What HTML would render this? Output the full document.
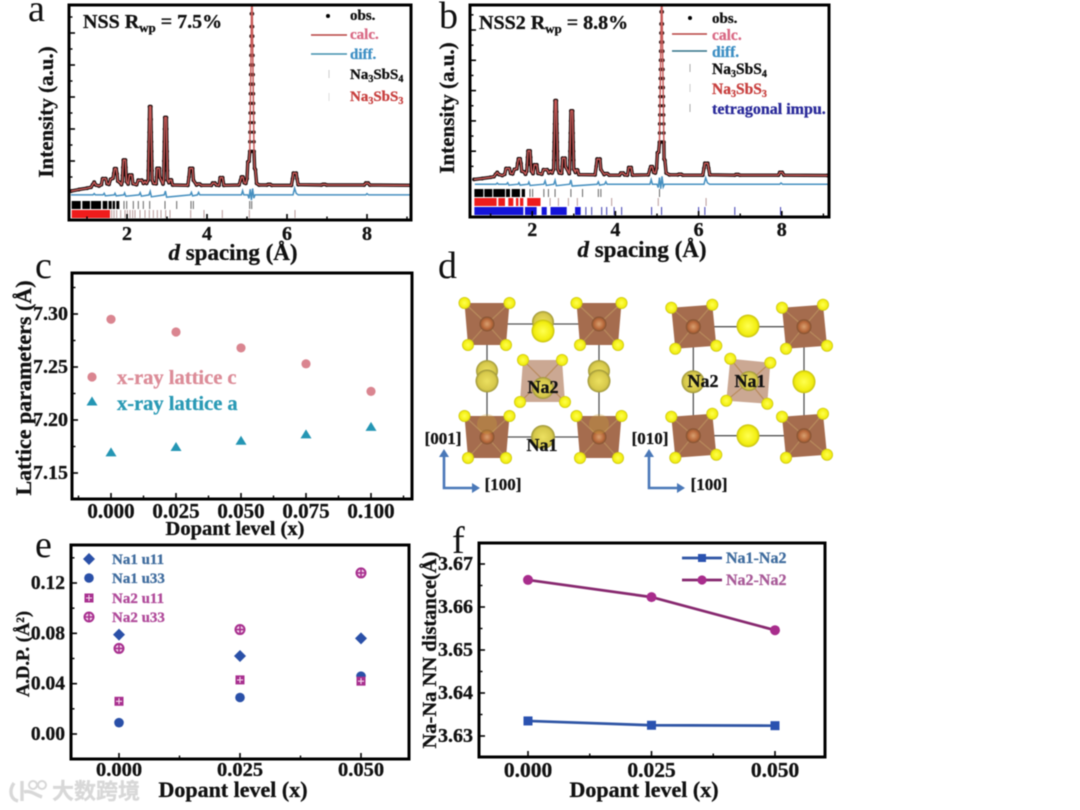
<!DOCTYPE html>
<html lang="en">
<head>
<meta charset="utf-8">
<title>Na3SbS4 diffraction and lattice figure</title>
<style>
html,body{margin:0;padding:0;background:#fff;}
#figure{display:block;width:1080px;height:810px;filter:blur(0.5px);}
text{font-family:"Liberation Serif","Noto Sans CJK SC",serif;font-weight:bold;}
.letter{font-weight:normal;fill:#111;}
</style>
</head>
<body>
<svg id="figure" xmlns="http://www.w3.org/2000/svg" width="1080" height="810" viewBox="0 0 1080 810">
<defs>
  <radialGradient id="ySphere" cx="50%" cy="50%" r="55%"><stop offset="0%" stop-color="#ffff50"/><stop offset="70%" stop-color="#f2ee10"/><stop offset="100%" stop-color="#b0a810"/></radialGradient>
  <radialGradient id="oSphere" cx="50%" cy="50%" r="55%"><stop offset="0%" stop-color="#ece060"/><stop offset="70%" stop-color="#d6c84a"/><stop offset="100%" stop-color="#7f7a30"/></radialGradient>
  <radialGradient id="bSphere" cx="50%" cy="50%" r="55%"><stop offset="0%" stop-color="#d8a070"/><stop offset="60%" stop-color="#b8683a"/><stop offset="100%" stop-color="#6d4a30"/></radialGradient>
  <clipPath id="clipA"><rect x="69" y="5" width="342" height="215"/></clipPath>
  <clipPath id="clipB"><rect x="470" y="5" width="359" height="212"/></clipPath>
</defs>
<rect width="1080" height="810" fill="#fff"/>

<text class="letter" x="28" y="21" font-size="38">a</text>
<text class="letter" x="439" y="28" font-size="38">b</text>
<text class="letter" x="35" y="278" font-size="38">c</text>
<text class="letter" x="438" y="278" font-size="38">d</text>
<text class="letter" x="35" y="557" font-size="38">e</text>
<text class="letter" x="452" y="553" font-size="38">f</text>

<g id="panelA"></g>
<g id="panelB"></g>
<g id="panelC"></g>
<g id="panelE"></g>
<g id="panelF"></g>
<g id="panelD"></g>

<g><text x="83" y="28" font-size="20" fill="#111">NSS R<tspan dy="4" font-size="13">wp</tspan><tspan dy="-4"> = 7.5%</tspan></text></g>
<g>
  <circle cx="328" cy="16" r="2" fill="#000"/>
  <text x="350" y="20" font-size="15" fill="#111">obs.</text>
  <line x1="311" y1="35" x2="347" y2="35" stroke="#b8403f" stroke-width="1.4"/>
  <text x="350" y="39" font-size="15" fill="#d96a85">calc.</text>
  <line x1="311" y1="54" x2="347" y2="54" stroke="#3f8fae" stroke-width="1.4"/>
  <text x="350" y="59" font-size="15" fill="#3d8fc4">diff.</text>
  <line x1="329" y1="70" x2="329" y2="78" stroke="#ccc"/>
  <text x="350" y="79" font-size="15" fill="#111">Na<tspan dy="3" font-size="10">3</tspan><tspan dy="-3">SbS</tspan><tspan dy="3" font-size="10">4</tspan></text>
  <line x1="329" y1="93" x2="329" y2="101" stroke="#ddd"/>
  <text x="350" y="101" font-size="15" fill="#c8403f">Na<tspan dy="3" font-size="10">3</tspan><tspan dy="-3">SbS</tspan><tspan dy="3" font-size="10">3</tspan></text>
</g>

<g><text x="479" y="29" font-size="20" fill="#111">NSS2 R<tspan dy="4" font-size="13">wp</tspan><tspan dy="-4"> = 8.8%</tspan></text></g>
<g>
  <circle cx="690" cy="18" r="2" fill="#000"/>
  <text x="712" y="23" font-size="15" fill="#111">obs.</text>
  <line x1="672" y1="34" x2="707" y2="34" stroke="#b8403f" stroke-width="1.4"/>
  <text x="712" y="40" font-size="15.5" fill="#d96a85">calc.</text>
  <line x1="672" y1="51" x2="707" y2="51" stroke="#2f7088" stroke-width="1.4"/>
  <text x="712" y="57" font-size="15.5" fill="#3d8fc4">diff.</text>
  <line x1="690" y1="64" x2="690" y2="72" stroke="#aaa"/>
  <text x="712" y="74" font-size="15.5" fill="#111">Na<tspan dy="3" font-size="10">3</tspan><tspan dy="-3">SbS</tspan><tspan dy="3" font-size="10">4</tspan></text>
  <line x1="690" y1="84" x2="690" y2="92" stroke="#ccc"/>
  <text x="712" y="94" font-size="15.5" fill="#c8403f">Na<tspan dy="3" font-size="10">3</tspan><tspan dy="-3">SbS</tspan><tspan dy="3" font-size="10">3</tspan></text>
  <line x1="690" y1="104" x2="690" y2="112" stroke="#aaa"/>
  <text x="712" y="114" font-size="16" fill="#2a2a9a">tetragonal impu.</text>
</g>

<g opacity="0.95">
  <path d="M14 783C9 790 10 799 18 801M22 781L22 801M24 792C30 790 36 795 42 797" fill="none" stroke="#d6d6d6" stroke-width="3.4"/>
  <circle cx="33" cy="785" r="4" fill="none" stroke="#d6d6d6" stroke-width="2"/>
  <circle cx="42" cy="785" r="4" fill="none" stroke="#d6d6d6" stroke-width="2"/>
  <text x="52" y="799" font-size="22" fill="#d6d6d6" style='font-family:"Noto Sans CJK SC",sans-serif'>大数跨境</text>
</g>

<script>
// ---- Panel a: NSS diffraction profile ----
const obsDA = [.6,.8,1,1.1,1.14,1.18,1.22,1.3,
 1.36,1.39,1.47,1.5,1.55,1.59,1.65,1.67,1.69,1.73,1.75,1.77,1.82,1.86,
 1.88,1.89,1.9,1.91,1.96,1.97,1.98,1.99,2.03,2.06,2.12,2.15,2.24,
 2.28,2.37,2.41,2.45,2.49,
 2.53,2.535,2.54,2.545,2.55,2.555,2.56,2.565,2.595,2.6,2.605,2.61,2.615,2.62,2.625,2.63,2.66,2.73,
 2.74,2.75,2.81,2.82,2.9,
 2.915,2.92,2.925,2.93,2.935,2.94,2.945,2.985,2.99,2.995,3,3.005,3.01,3.015,3.05,3.07,3.11,3.14,3.52,
 3.55,3.57,3.64,3.66,3.74,3.77,3.82,3.86,4.11,4.14,4.2,4.23,4.3,4.33,4.39,4.42,4.8,
 4.84,4.86,4.9,4.93,4.97,5,5.02,5.05,
 5.07,5.073,5.076,5.079,5.082,5.085,5.088,5.091,5.094,5.097,5.1,5.103,5.106,5.109,5.112,5.115,
 5.13,5.133,5.136,5.139,5.142,5.145,5.148,5.151,5.154,5.157,5.16,5.163,5.166,5.169,5.172,5.175,
 5.19,5.21,5.24,5.3,5.5,5.53,5.58,5.62,6.11,6.14,6.16,6.23,6.25,6.28,6.86,6.9,6.95,6.99,7.93,7.97,8.03,8.07,9.1];
const obsIA = [.6,1.1,1.5,1.8,2.6,3.4,2.5,2.2,
 2.6,4.5,4.5,2.9,2.7,4.3,4.6,6.1,7.6,7.6,6,3.7,3.3,2.6,
 3.5,5.5,8,10.3,10.3,8,5.5,3.5,2.8,5.6,5.6,2.9,2.6,
 4,4,3,3.6,3,
 4,7,10,13,16,19,23,27,27,23,19,16,13,10,7,4,3,2.9,
 5,7.7,7.7,5,2.8,
 4,7,10,13,16,20,23.6,23.6,20,16,13,10,7,4,3.2,4.1,4.1,2.5,2.4,
 5,7.7,7.7,4,2.5,2.8,2.8,2.4,2.4,3.1,3.1,2.5,2.4,4.8,4.8,2.4,2.5,
 4,5,5,3.2,3,4.5,9.7,9.9,
 13,16,19,22,25,28,31,34,37,40,43,46,49,52,56,62,
 62,56,52,49,46,43,40,37,34,31,28,25,22,19,16,13,
 7.7,7.3,3,2.5,2.5,2.7,2.7,2.4,2.4,4.5,6.2,6.2,4.5,2.6,2.5,2.7,2.7,2.5,2.5,3.1,3.1,2.5,2.4];
const diffDA = [.6,1.15,1.18,1.21,1.4,1.43,1.46,1.68,1.7,1.73,1.92,1.94,1.97,2.3,2.33,2.36,2.55,2.58,2.61,2.93,2.96,2.99,3.58,3.61,3.64,3.76,3.79,3.82,4.86,4.89,4.92,5.02,5.05,5.08,5.11,5.14,5.17,5.2,6.15,6.19,6.23,6.28,7.97,8,8.04,9.1];
const diffIA = [-.6,-.6,-.2,-.6,-.6,-.1,-.9,-.6,-.1,-.9,-.6,0,-1,-.6,.1,-1,-.6,.5,-1.2,-.6,.6,-1.3,-.6,.2,-.9,-.6,.2,-.6,-.6,.7,-.6,-.6,-1.7,1.2,-2.2,1.4,-1.6,-.6,-.6,1.5,-.1,-.6,-.6,-.2,-.6,-.6];
const s4BandStartA = [.617,.883,1.1,1.392,1.54,1.642,1.733];
const s4BandEndA = [.842,1.075,1.35,1.508,1.617,1.7,1.808];
const s4RefsA = [1.925,1.992,2.158,2.283,2.408,2.567,2.95,3.242,3.6,3.658,5.067,5.117];
const s3BandStartA = [.617];
const s3BandEndA = [1.575];
const s3RefsA = [1.617,1.675,1.742,1.842,1.95,2.008,2.075,2.142,2.2,2.325,2.45,2.558,2.658,2.758,2.85,2.967,3.075,3.592,3.925,4.383,5.058,6.2];
const dTicks = [2,4,6,8];
const dMinorTicks = [1,3,5,7,9];
const intensityTicksA = [10,20,30,40,50];
const intensityMinorA = [5,15,25,35,45,55];

// ---- Panel b: NSS2 diffraction profile ----
const obsDB = [.6,.8,1,1.08,1.12,1.16,1.2,1.28,
 1.34,1.37,1.45,1.48,1.53,1.57,1.63,1.65,1.67,1.71,1.73,1.75,1.8,1.84,
 1.87,1.88,1.89,1.9,1.95,1.96,1.97,1.98,2.02,2.05,2.11,2.14,2.23,
 2.27,2.36,2.4,2.44,2.48,
 2.515,2.52,2.525,2.53,2.535,2.54,2.545,2.55,2.58,2.585,2.59,2.595,2.6,2.605,2.61,2.615,2.65,2.71,
 2.72,2.73,2.79,2.8,2.89,
 2.9,2.905,2.91,2.915,2.92,2.925,2.93,2.97,2.975,2.98,2.985,2.99,2.995,3,3.04,3.05,3.09,3.12,3.51,
 3.54,3.56,3.63,3.65,3.73,3.76,3.81,3.85,4.1,4.13,4.19,4.22,4.29,4.32,4.38,4.41,4.79,
 4.83,4.85,4.89,4.92,4.96,4.99,5.01,5.04,
 5.06,5.063,5.066,5.069,5.072,5.075,5.078,5.081,5.084,5.087,5.09,5.093,5.096,5.099,5.102,5.105,
 5.12,5.123,5.126,5.129,5.132,5.135,5.138,5.141,5.144,5.147,5.15,5.153,5.156,5.159,5.162,5.165,
 5.17,5.19,5.22,5.3,5.5,5.53,5.58,5.62,6.1,6.13,6.15,6.22,6.24,6.27,6.87,6.9,6.95,6.99,7.92,7.95,8.01,8.05,9.1];
const obsIB = [.7,1,1.4,1.6,2.4,3,2.3,2,
 2.4,4.3,4.3,2.7,2.5,4,4.2,6,7.5,7.5,6,3.4,3.2,2.4,
 3.4,5.5,8,10.1,10.1,8,5.5,3.4,2.6,5.5,5.5,2.7,2.4,
 3.9,3.9,2.8,3.4,2.8,
 4,7,10,13,16,19,23,26.7,26.7,23,19,16,13,10,7,4,2.8,2.7,
 5,7.7,7.7,5,2.6,
 4,7,10,13,16,20,23.3,23.3,20,16,13,10,7,4,3,3.8,3.8,2.3,2.2,
 5,7.4,7.4,4,2.3,2.6,2.6,2.1,2.1,2.8,2.8,2.2,2.1,4.6,4.6,2.1,2.2,
 4,4.9,4.9,3,2.8,4.4,9.5,9.7,
 13,16,19,22,25,28,31,34,37,40,43,46,49,52,56,62,
 62,56,52,49,46,43,40,37,34,31,28,25,22,19,16,13,
 7.4,7,2.8,2.2,2.2,2.4,2.4,2.1,2.1,4.4,6,6,4.4,2.2,2.1,2.3,2.3,2.1,2.1,3,3,2.1,2];
const diffDB = [.62,1.13,1.16,1.19,1.38,1.41,1.44,1.66,1.68,1.71,1.9,1.92,1.95,2.28,2.31,2.34,2.52,2.55,2.58,2.9,2.93,2.96,3.56,3.59,3.62,3.74,3.77,3.8,4.83,4.86,4.89,5,5.03,5.06,5.09,5.12,5.15,5.18,6.13,6.17,6.21,6.26,7.95,7.98,8.02,9.1];
const diffIB = [-.9,-.9,-.5,-.9,-.9,-.4,-1.2,-.9,-.4,-1.2,-.9,-.2,-1.3,-.9,.2,-1.3,-.9,.4,-1.4,-.9,.5,-1.5,-.9,-.1,-1.2,-.9,-.1,-.9,-.9,.6,-.9,-.9,-2,1.3,-2.4,1.7,-1.8,-.9,-.9,1.2,-.4,-.9,-.9,-.5,-.9,-.9];
const s4BandStartB = [.61,.85,1.065,1.37,1.506,1.747];
const s4BandEndB = [.825,1.04,1.346,1.466,1.706,1.827];
const s4RefsB = [1.947,2.01,2.28,2.39,2.55,2.93,3.21,3.59,3.65,5.06];
const s3BandStartB = [.61,1.186,1.426,1.61,1.706,1.88];
const s3BandEndB = [1.145,1.346,1.546,1.667,1.787,2.2];
const s3RefsB = [2.43,2.63,2.87,3.085,3.91,5.03,6.18];
const tetBandStartB = [.61,1.827,2.227,2.44,3.03];
const tetBandEndB = [1.787,2.107,2.35,2.83,3.165];
const tetRefsB = [3.29,3.43,3.67,3.79,3.97,4.15,4.87,5.11,6,6.15,6.87,7.97];
const intensityTicksB = [10,20,30,40,50];
const intensityMinorB = [5,15,25,35,45,55];
const bigPeakStart = 5;
const outlineCeil = 14;

// ---- Panel c: lattice parameters ----
const dopantC = [0,.025,.05,.075,.1];
const latticeC = [7.295,7.283,7.268,7.253,7.227];
const latticeA = [7.169,7.174,7.18,7.186,7.193];
const xTicksC = ['0.000','0.025','0.050','0.075','0.100'];
const xMinorC = [-.0125,.0125,.0375,.0625,.0875,.1125];
const yTicksC = ['7.15','7.20','7.25','7.30'];
const yMinorC = [7.175,7.225,7.275,7.325];

// ---- Panel e: atomic displacement parameters ----
const dopantE = [0,.025,.05];
const na1u11 = [.079,.062,.076];
const na1u33 = [.009,.029,.046];
const na2u11 = [.026,.043,.042];
const na2u33 = [.068,.083,.128];
const xTicksE = ['0.000','0.025','0.050'];
const xMinorE = [.0125,.0375];
const yTicksE = ['0.00','0.04','0.08','0.12'];
const yMinorE = [.02,.06,.1,.14];

// ---- Panel f: Na-Na distance ----
const dopantF = [0,.025,.05];
const na1na2 = [3.6335,3.6325,3.6324];
const na2na2 = [3.6663,3.6623,3.6546];
const xTicksF = ['0.000','0.025','0.050'];
const xMinorF = [.0125,.0375];
const yTicksF = ['3.63','3.64','3.65','3.66','3.67'];
const yMinorF = [3.635,3.645,3.655,3.665];

const NS = 'http://www.w3.org/2000/svg';
function linear(d0, d1, r0, r1) { return v => r0 + (v - d0) * (r1 - r0) / (d1 - d0); }
function shape(parent, tag, attrs, name) {
  const el = document.createElementNS(NS, tag);
  for (const k in attrs) el.setAttribute(k, attrs[k]);
  
  
  parent.appendChild(el);
  return el;
}
function label(parent, x, y, str, size, anchor, fill, name, rot) {
  const el = shape(parent, 'text', {x: x, y: y, 'font-size': size, 'text-anchor': anchor, fill: fill}, name);
  if (rot) el.setAttribute('transform', 'rotate(' + rot + ' ' + x + ' ' + y + ')');
  el.textContent = str;
  return el;
}
function pathOf(xs, ys, fx, fy) {
  return xs.map((v, i) => (i ? 'L' : 'M') + fx(v).toFixed(2) + ' ' + fy(ys[i]).toFixed(2)).join('');
}
function frame(parent, box) {
  shape(parent, 'rect', {x: box.x, y: box.y, width: box.w, height: box.h, fill: 'none', stroke: '#000', 'stroke-width': 3}, 'plot-frame');
}
function ticks(parent, box, xs, xsMinor, ys, ysMinor, fx, fy) {
  const bottom = box.y + box.h, left = box.x;
  xs.forEach(v => shape(parent, 'line', {x1: fx(v), x2: fx(v), y1: bottom, y2: bottom - 6, stroke: '#000', 'stroke-width': 1.6}, 'x-major-tick'));
  xsMinor.forEach(v => shape(parent, 'line', {x1: fx(v), x2: fx(v), y1: bottom, y2: bottom - 3.5, stroke: '#000', 'stroke-width': 1.4}, 'x-minor-tick'));
  ys.forEach(v => shape(parent, 'line', {x1: left, x2: left + 6, y1: fy(v), y2: fy(v), stroke: '#000', 'stroke-width': 1.6}, 'y-major-tick'));
  ysMinor.forEach(v => shape(parent, 'line', {x1: left, x2: left + 3.5, y1: fy(v), y2: fy(v), stroke: '#000', 'stroke-width': 1.4}, 'y-minor-tick'));
}
function reflectionRow(parent, fx, starts, ends, refs, top, bot, color, refColor, name) {
  starts.forEach((s, i) => shape(parent, 'rect', {x: fx(s), y: top, width: fx(ends[i]) - fx(s), height: bot - top, fill: color}, name + '-band'));
  refs.forEach(v => shape(parent, 'line', {x1: fx(v), x2: fx(v), y1: top, y2: bot, stroke: refColor, 'stroke-width': 1}, name + '-tick'));
}
function diffraction(cfg) {
  const g = document.getElementById(cfg.id);
  const fx = linear(0, 1, cfg.x0, cfg.x0 + cfg.xUnit);
  const fy = linear(0, 10, cfg.y0, cfg.y0 - cfg.yUnit);
  const data = shape(g, 'g', {'clip-path': 'url(#' + cfg.clip + ')'}, 'pattern-traces');
  shape(data, 'path', {d: pathOf(cfg.diffD, cfg.diffI, fx, fy), fill: 'none', stroke: '#4690c0', 'stroke-width': 1.5}, 'difference-curve');
  const keep = cfg.obsD.map((d, i) => i).filter(i => !(cfg.obsD[i] > bigPeakStart && cfg.obsI[i] > outlineCeil));
  const outlineD = keep.map(i => cfg.obsD[i]);
  const outlineI = keep.map(i => cfg.obsI[i]);
  shape(data, 'path', {d: pathOf(outlineD, outlineI, fx, fy), fill: 'none', stroke: '#150808', 'stroke-width': 3.4, 'stroke-linejoin': 'round'}, 'observed-outline');
  cfg.obsD.forEach((d, i) => shape(data, 'circle', {cx: fx(d), cy: fy(cfg.obsI[i]), r: 1.9, fill: '#1a0a0a'}, 'observed-point'));
  shape(data, 'path', {d: pathOf(cfg.obsD, cfg.obsI, fx, fy), fill: 'none', stroke: '#c85a58', 'stroke-width': 1.5, 'stroke-linejoin': 'round'}, 'calculated-curve');
  reflectionRow(g, fx, cfg.s4S, cfg.s4E, cfg.s4R, cfg.rowY[0], cfg.rowY[0] + 8, '#000', '#666', 'na3sbs4-reflections');
  reflectionRow(g, fx, cfg.s3S, cfg.s3E, cfg.s3R, cfg.rowY[1], cfg.rowY[1] + 8, '#ee1c1c', '#b89a9a', 'na3sbs3-reflections');
  if (cfg.tetS) reflectionRow(g, fx, cfg.tetS, cfg.tetE, cfg.tetR, cfg.rowY[2], cfg.rowY[2] + 8, '#1414d8', '#3a3ab0', 'tetragonal-reflections');
  ticks(g, cfg.box, cfg.xT, cfg.xM, cfg.yT, cfg.yM, fx, fy);
  frame(g, cfg.box);
  cfg.xT.forEach(v => label(g, fx(v), cfg.tickY, String(v), 20, 'middle', '#111', 'x-tick-label'));
  const xt = shape(g, 'text', {x: cfg.xlX, y: cfg.xlY, 'font-size': 23, 'text-anchor': 'middle', fill: '#111'}, 'x-axis-title');
  const it = document.createElementNS(NS, 'tspan');
  it.setAttribute('font-style', 'italic');
  it.textContent = 'd';
  xt.appendChild(it);
  xt.appendChild(document.createTextNode(' spacing (Å)'));
  label(g, cfg.ylX, cfg.ylY, 'Intensity (a.u.)', 21, 'middle', '#111', 'y-axis-title', -90);
}
diffraction({id: 'panelA', clip: 'clipA', box: {x: 69, y: 5, w: 342, h: 215}, x0: 47, xUnit: 40, y0: 193, yUnit: 32,
  obsD: obsDA, obsI: obsIA, diffD: diffDA, diffI: diffIA,
  s4S: s4BandStartA, s4E: s4BandEndA, s4R: s4RefsA, s3S: s3BandStartA, s3E: s3BandEndA, s3R: s3RefsA, rowY: [201, 210],
  xT: dTicks, xM: dMinorTicks, yT: intensityTicksA, yM: intensityMinorA, tickY: 240, xlX: 233, xlY: 260, ylX: 53, ylY: 112});
diffraction({id: 'panelB', clip: 'clipB', box: {x: 470, y: 5, w: 359, h: 212}, x0: 449, xUnit: 41.6, y0: 181.5, yUnit: 30.3,
  obsD: obsDB, obsI: obsIB, diffD: diffDB, diffI: diffIB,
  s4S: s4BandStartB, s4E: s4BandEndB, s4R: s4RefsB, s3S: s3BandStartB, s3E: s3BandEndB, s3R: s3RefsB,
  tetS: tetBandStartB, tetE: tetBandEndB, tetR: tetRefsB, rowY: [189, 198, 207],
  xT: dTicks, xM: dMinorTicks, yT: intensityTicksB, yM: intensityMinorB, tickY: 236, xlX: 642, xlY: 257, ylX: 454, ylY: 108});

// Panel c
(function () {
  const g = document.getElementById('panelC');
  const box = {x: 72, y: 273, w: 340, h: 226};
  const fx = linear(0, .1, 111, 371);
  const fy = linear(7.15, 7.30, 473, 314);
  const xv = xTicksC.map(Number), yv = yTicksC.map(Number);
  ticks(g, box, xv, xMinorC, yv, yMinorC, fx, fy);
  frame(g, box);
  dopantC.forEach((x, i) => shape(g, 'circle', {cx: fx(x), cy: fy(latticeC[i]), r: 4.6, fill: '#da8590'}, 'lattice-c-point'));
  dopantC.forEach((x, i) => {
    const cx = fx(x), cy = fy(latticeA[i]);
    shape(g, 'path', {d: 'M' + cx + ' ' + (cy - 5.5) + 'l5.5 9h-11z', fill: '#2496b4'}, 'lattice-a-point');
  });
  xTicksC.forEach((t, i) => label(g, fx(xv[i]), 518, t, 21, 'middle', '#111', 'x-tick-label'));
  yTicksC.forEach((t, i) => label(g, 68, fy(yv[i]) + 6, t, 20, 'end', '#111', 'y-tick-label'));
  label(g, 235, 535, 'Dopant level (x)', 20.5, 'middle', '#111', 'x-axis-title');
  label(g, 31, 388, 'Lattice parameters (Å)', 22, 'middle', '#111', 'y-axis-title', -90);
  shape(g, 'circle', {cx: 92, cy: 377, r: 4.6, fill: '#da8590'}, 'legend-marker-lattice-c');
  label(g, 117, 384, 'x-ray lattice c', 20.5, 'start', '#dc8c98', 'legend-label-lattice-c');
  shape(g, 'path', {d: 'M92 396.5l5.5 9h-11z', fill: '#2496b4'}, 'legend-marker-lattice-a');
  label(g, 117, 410, 'x-ray lattice a', 20.5, 'start', '#2a9ab5', 'legend-label-lattice-a');
})();

// Panel e
function markerE(g, kind, cx, cy, name) {
  const blue = '#2a50a8', purple = '#a8308f';
  if (kind === 'diamond') {
    shape(g, 'path', {d: 'M' + cx + ' ' + (cy - 6) + 'l6 6l-6 6l-6-6z', fill: blue}, name);
  } else if (kind === 'circle') {
    shape(g, 'circle', {cx: cx, cy: cy, r: 4.8, fill: blue}, name);
  } else if (kind === 'square') {
    shape(g, 'rect', {x: cx - 4.5, y: cy - 4.5, width: 9, height: 9, fill: purple}, name);
    shape(g, 'path', {d: 'M' + (cx - 3) + ' ' + cy + 'h6M' + cx + ' ' + (cy - 3) + 'v6', stroke: '#f6d8ee', 'stroke-width': 1.1, fill: 'none'}, name + '-cross');
  } else {
    shape(g, 'circle', {cx: cx, cy: cy, r: 4.5, fill: '#f6d8ee', stroke: purple, 'stroke-width': 2}, name);
    shape(g, 'path', {d: 'M' + (cx - 4) + ' ' + cy + 'h8M' + cx + ' ' + (cy - 4) + 'v8', stroke: purple, 'stroke-width': 1.6, fill: 'none'}, name + '-plus');
  }
}
(function () {
  const g = document.getElementById('panelE');
  const box = {x: 71, y: 545, w: 338, h: 214};
  const fx = linear(0, .05, 119, 361);
  const fy = linear(0, .12, 734, 583);
  const xv = xTicksE.map(Number), yv = yTicksE.map(Number);
  ticks(g, box, xv, xMinorE, yv, yMinorE, fx, fy);
  frame(g, box);
  dopantE.forEach((x, i) => markerE(g, 'plus', fx(x), fy(na2u33[i]), 'na2-u33-point'));
  dopantE.forEach((x, i) => markerE(g, 'circle', fx(x), fy(na1u33[i]), 'na1-u33-point'));
  dopantE.forEach((x, i) => markerE(g, 'square', fx(x), fy(na2u11[i]), 'na2-u11-point'));
  dopantE.forEach((x, i) => markerE(g, 'diamond', fx(x), fy(na1u11[i]), 'na1-u11-point'));
  xTicksE.forEach((t, i) => label(g, fx(xv[i]), 776, t, 20.5, 'middle', '#111', 'x-tick-label'));
  yTicksE.forEach((t, i) => label(g, 65, fy(yv[i]) + 6, t, 19.5, 'end', '#111', 'y-tick-label'));
  label(g, 233, 797, 'Dopant level (x)', 22, 'middle', '#111', 'x-axis-title');
  const yt = shape(g, 'text', {x: 29, y: 654, 'font-size': 18.5, 'text-anchor': 'middle', fill: '#111', transform: 'rotate(-90 29 654)'}, 'y-axis-title');
  yt.textContent = 'A.D.P. (Å²)';
  markerE(g, 'diamond', 89, 559, 'legend-marker-na1-u11');
  label(g, 112, 564, 'Na1 u11', 15, 'start', '#3f6c9e', 'legend-label-na1-u11');
  markerE(g, 'circle', 89, 578, 'legend-marker-na1-u33');
  label(g, 112, 583, 'Na1 u33', 15, 'start', '#3f6c9e', 'legend-label-na1-u33');
  markerE(g, 'square', 89, 598, 'legend-marker-na2-u11');
  label(g, 112, 603, 'Na2 u11', 15, 'start', '#b04a9a', 'legend-label-na2-u11');
  markerE(g, 'plus', 89, 617, 'legend-marker-na2-u33');
  label(g, 112, 622, 'Na2 u33', 15, 'start', '#b04a9a', 'legend-label-na2-u33');
})();

// Panel f
(function () {
  const g = document.getElementById('panelF');
  const box = {x: 479, y: 543, w: 346, h: 214};
  const fx = linear(0, .05, 528, 775);
  const fy = linear(3.63, 3.67, 736, 564);
  const xv = xTicksF.map(Number), yv = yTicksF.map(Number);
  ticks(g, box, xv, xMinorF, yv, yMinorF, fx, fy);
  frame(g, box);
  shape(g, 'path', {d: pathOf(dopantF, na1na2, fx, fy), fill: 'none', stroke: '#2f55a5', 'stroke-width': 2.7}, 'na1-na2-line');
  shape(g, 'path', {d: pathOf(dopantF, na2na2, fx, fy), fill: 'none', stroke: '#87286f', 'stroke-width': 2.7}, 'na2-na2-line');
  dopantF.forEach((x, i) => shape(g, 'rect', {x: fx(x) - 4.5, y: fy(na1na2[i]) - 4.5, width: 9, height: 9, fill: '#2a52b0'}, 'na1-na2-point'));
  dopantF.forEach((x, i) => shape(g, 'circle', {cx: fx(x), cy: fy(na2na2[i]), r: 5, fill: '#a82c8c'}, 'na2-na2-point'));
  xTicksF.forEach((t, i) => label(g, fx(xv[i]), 777, t, 21.5, 'middle', '#111', 'x-tick-label'));
  yTicksF.forEach((t, i) => label(g, 473, fy(yv[i]) + 6, t, 20, 'end', '#111', 'y-tick-label'));
  label(g, 644, 797, 'Dopant level (x)', 22, 'middle', '#111', 'x-axis-title');
  label(g, 436, 650, 'Na-Na NN distance(Å)', 20.5, 'middle', '#111', 'y-axis-title', -90);
  shape(g, 'line', {x1: 682, x2: 722, y1: 558, y2: 558, stroke: '#2f55a5', 'stroke-width': 2.7}, 'legend-line-na1-na2');
  shape(g, 'rect', {x: 698, y: 554, width: 8, height: 8, fill: '#2a52b0'}, 'legend-marker-na1-na2');
  label(g, 726, 563, 'Na1-Na2', 16, 'start', '#3f6c9e', 'legend-label-na1-na2');
  shape(g, 'line', {x1: 682, x2: 722, y1: 580, y2: 580, stroke: '#87286f', 'stroke-width': 2.7}, 'legend-line-na2-na2');
  shape(g, 'circle', {cx: 702, cy: 580, r: 4.6, fill: '#a82c8c'}, 'legend-marker-na2-na2');
  label(g, 726, 585, 'Na2-Na2', 16, 'start', '#a85a98', 'legend-label-na2-na2');
})();

// Panel d: schematic crystal structures (illustration, not data)
(function () {
  const g = document.getElementById('panelD');
  function poly(cx, cy, c, fill, centre, name) {
    const sub = shape(g, 'g', {}, name);
    const order = [c[0], c[1], c[3], c[2]];
    shape(sub, 'polygon', {points: order.map(p => (cx + p[0]) + ',' + (cy + p[1])).join(' '), fill: fill}, 'polyhedron-face');
    c.forEach(p => shape(sub, 'line', {x1: cx, y1: cy, x2: cx + p[0], y2: cy + p[1], stroke: '#b88a5c', 'stroke-width': 1.2}, 'sb-s-bond'));
    c.forEach(p => shape(sub, 'circle', {cx: cx + p[0], cy: cy + p[1], r: 6, fill: 'url(#ySphere)'}, 'sulfur-atom'));
    if (centre) shape(sub, 'circle', {cx: cx, cy: cy, r: 7.5, fill: 'url(#bSphere)'}, 'antimony-atom');
  }
  function cell(a, b) {
    const p = 'M' + a[0] + ' ' + a[1] + 'H' + b[0] + 'V' + b[1] + 'H' + a[0] + 'Z';
    shape(g, 'path', {d: p, fill: 'none', stroke: '#555', 'stroke-width': 1.3}, 'unit-cell-outline');
  }
  function na(cx, cy, r, fill, name) {
    shape(g, 'circle', {cx: cx, cy: cy, r: r, fill: fill}, name);
  }
  const leftCorners = [[-22.5,-21],[22.5,-21],[-19,21],[19,21]];
  const midCornersL = [[-20,-20],[19,-20],[-23,22],[22,22]];
  const rightCorners = [[-22,-19],[19,-22],[-18,22],[23,19]];
  const midCornersR = [[-19,-23],[21,-19],[-23,19],[18,22]];
  const brown = '#a56c4e', light = '#cba893';

  cell([487, 324], [599, 437]);
  [[543,322],[487,371],[599,371]].forEach(p => na(p[0], p[1], 11, 'url(#oSphere)', 'na-atom-back'));
  na(543, 331, 11.5, 'url(#ySphere)', 'na-atom-front');
  [[487,381],[599,381]].forEach(p => na(p[0], p[1], 11.5, 'url(#oSphere)', 'na-atom-front'));
  na(543, 437, 12, 'url(#oSphere)', 'na1-atom');
  [[487,324],[599,324],[487,437],[599,437]].forEach(p => poly(p[0], p[1], leftCorners, brown, true, 'sbs4-polyhedron'));
  [[487,424],[599,424]].forEach(p => shape(g, 'circle', {cx: p[0], cy: p[1], r: 10, fill: '#c8a040', opacity: .35}, 'na-atom-behind-polyhedron'));
  poly(543, 380, midCornersL, light, false, 'sbs4-polyhedron-centre');
  na(543, 388, 11, 'url(#oSphere)', 'na2-atom');
  label(g, 543, 393, 'Na2', 18, 'middle', '#111', 'na2-label');
  label(g, 542, 451, 'Na1', 18, 'middle', '#111', 'na1-label');

  cell([693.3, 326.7], [804, 435.7]);
  [[748,326],[804,381.7],[748,435.7]].forEach(p => na(p[0], p[1], 11.5, 'url(#ySphere)', 'na-atom'));
  na(693, 381.7, 11.5, 'url(#oSphere)', 'na2-atom');
  [[693.3,326.7],[804,326.7],[693.3,435.7],[804,435.7]].forEach(p => poly(p[0], p[1], rightCorners, brown, true, 'sbs4-polyhedron'));
  poly(749.3, 381.7, midCornersR, light, false, 'sbs4-polyhedron-centre');
  na(749, 381, 10, 'url(#oSphere)', 'na1-atom');
  label(g, 750, 387, 'Na1', 18, 'middle', '#111', 'na1-label');
  label(g, 703, 387, 'Na2', 18, 'middle', '#111', 'na2-label');

  [[444,488,480],[649,488,685]].forEach(a => {
    const p = 'M' + a[0] + ' ' + (a[1] - 32) + 'V' + a[1] + 'H' + (a[2] - 6);
    shape(g, 'path', {d: p, fill: 'none', stroke: '#4a78b8', 'stroke-width': 2.6}, 'axis-arrow-shaft');
    shape(g, 'path', {d: 'M' + (a[0] - 5) + ' ' + (a[1] - 31) + 'L' + a[0] + ' ' + (a[1] - 39) + 'L' + (a[0] + 5) + ' ' + (a[1] - 31) + 'Z', fill: '#4a78b8'}, 'axis-arrow-head-up');
    shape(g, 'path', {d: 'M' + (a[2] - 8) + ' ' + (a[1] - 5) + 'L' + a[2] + ' ' + a[1] + 'L' + (a[2] - 8) + ' ' + (a[1] + 5) + 'Z', fill: '#4a78b8'}, 'axis-arrow-head-right');
  });
  label(g, 443, 444, '[001]', 17, 'middle', '#111', 'direction-001-label');
  label(g, 503, 490, '[100]', 17, 'middle', '#111', 'direction-100-label-left');
  label(g, 650, 444, '[010]', 17, 'middle', '#111', 'direction-010-label');
  label(g, 709, 490, '[100]', 17, 'middle', '#111', 'direction-100-label-right');
})();

// Slightly heavier glyphs, matching the soft, thick print of the source image
document.querySelectorAll('#figure text:not(.letter)').forEach(t => {
  t.setAttribute('stroke', t.getAttribute('fill'));
  t.setAttribute('stroke-width', '0.3');
});
</script>
</svg>
</body>
</html>
